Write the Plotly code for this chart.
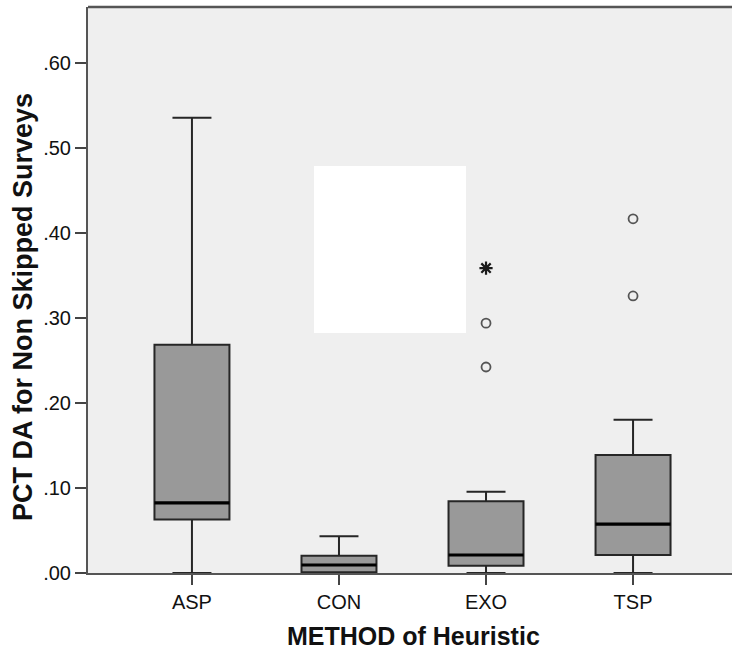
import plotly.graph_objects as go

categories = ["ASP", "CON", "EXO", "TSP"]
lower_whisker = [0.0, 0.0, 0.0, 0.0]
q1_vals = [0.063, 0.001, 0.0086, 0.0212]
median_vals = [0.0824, 0.0094, 0.0212, 0.0576]
q3_vals = [0.2686, 0.0204, 0.0843, 0.1388]
upper_whisker = [0.5357, 0.0431, 0.0957, 0.1804]

# outliers: (category, value)
circle_cat = ["EXO", "EXO", "TSP", "TSP"]
circle_val = [0.2424, 0.294, 0.326, 0.4168]
star_cat = ["EXO"]
star_val = [0.3588]

y_tick_vals = [0.0, 0.1, 0.2, 0.3, 0.4, 0.5, 0.6]
y_tick_text = [".00", ".10", ".20", ".30", ".40", ".50", ".60"]

box_w = 0.51
pos = {c: i for i, c in enumerate(categories)}

fig = go.Figure()
fig.add_trace(go.Box(
    x=list(range(len(categories))),
    q1=q1_vals, median=median_vals, q3=q3_vals,
    lowerfence=lower_whisker, upperfence=upper_whisker,
    width=box_w, whiskerwidth=0.52,
    fillcolor="#999999", line=dict(color="#262626", width=2),
    boxpoints=False, showlegend=False, hoverinfo="skip",
))

# thick median lines
for i, m in enumerate(median_vals):
    fig.add_trace(go.Scatter(
        x=[i - box_w / 2, i + box_w / 2], y=[m, m], mode="lines",
        line=dict(color="#000000", width=3.2), showlegend=False, hoverinfo="skip",
    ))

fig.add_trace(go.Scatter(
    x=[pos[c] for c in circle_cat], y=circle_val, mode="markers",
    marker=dict(symbol="circle-open", size=9, color="#555555", line=dict(width=1.8)),
    showlegend=False, hoverinfo="skip",
))
fig.add_trace(go.Scatter(
    x=[pos[c] for c in star_cat], y=star_val, mode="markers",
    marker=dict(symbol="asterisk-open", size=11, color="#1a1a1a", line=dict(width=2.2)),
    showlegend=False, hoverinfo="skip",
))

font_family = "Liberation Sans, Arial, sans-serif"

fig.update_layout(
    width=732, height=650,
    margin=dict(l=88, r=0, t=7, b=77),
    paper_bgcolor="white", plot_bgcolor="#efefef",
    font=dict(family=font_family, color="#111111"),
    xaxis=dict(
        range=[-0.707, 3.673], tickmode="array",
        tickvals=list(range(len(categories))), ticktext=categories,
        ticks="outside", ticklen=10, tickwidth=1.5, tickcolor="#444444",
        showline=True, linecolor="#555555", linewidth=2, mirror=False,
        showgrid=False, zeroline=False,
        tickfont=dict(size=20, family=font_family, color="#111111"),
    ),
    yaxis=dict(
        range=[0, 0.666], tickmode="array",
        tickvals=y_tick_vals, ticktext=y_tick_text,
        ticks="outside", ticklen=11, tickwidth=1.5, tickcolor="#444444",
        showline=True, linecolor="#555555", linewidth=2,
        showgrid=False, zeroline=False,
        tickfont=dict(size=20, family=font_family, color="#111111"),
    ),
    shapes=[
        dict(type="rect", xref="paper", yref="paper",
             x0=0.351, x1=0.587, y0=0.424, y1=0.719,
             fillcolor="white", line=dict(width=0), layer="above"),
        dict(type="line", xref="paper", yref="paper",
             x0=0, x1=1, y0=1, y1=1,
             line=dict(color="#555555", width=2.5), layer="above"),
    ],
    annotations=[
        dict(text="<b>METHOD of Heuristic</b>", xref="paper", yref="paper",
             x=0.505, y=-0.112, xanchor="center", yanchor="middle",
             showarrow=False, font=dict(size=25, family=font_family, color="#111111")),
        dict(text="<b>PCT DA for Non Skipped Surveys</b>", xref="paper", yref="paper",
             x=-0.1017, y=0.469, xanchor="center", yanchor="middle", textangle=-90,
             showarrow=False, font=dict(size=27, family=font_family, color="#111111")),
    ],
)

fig.write_html("out.html")
